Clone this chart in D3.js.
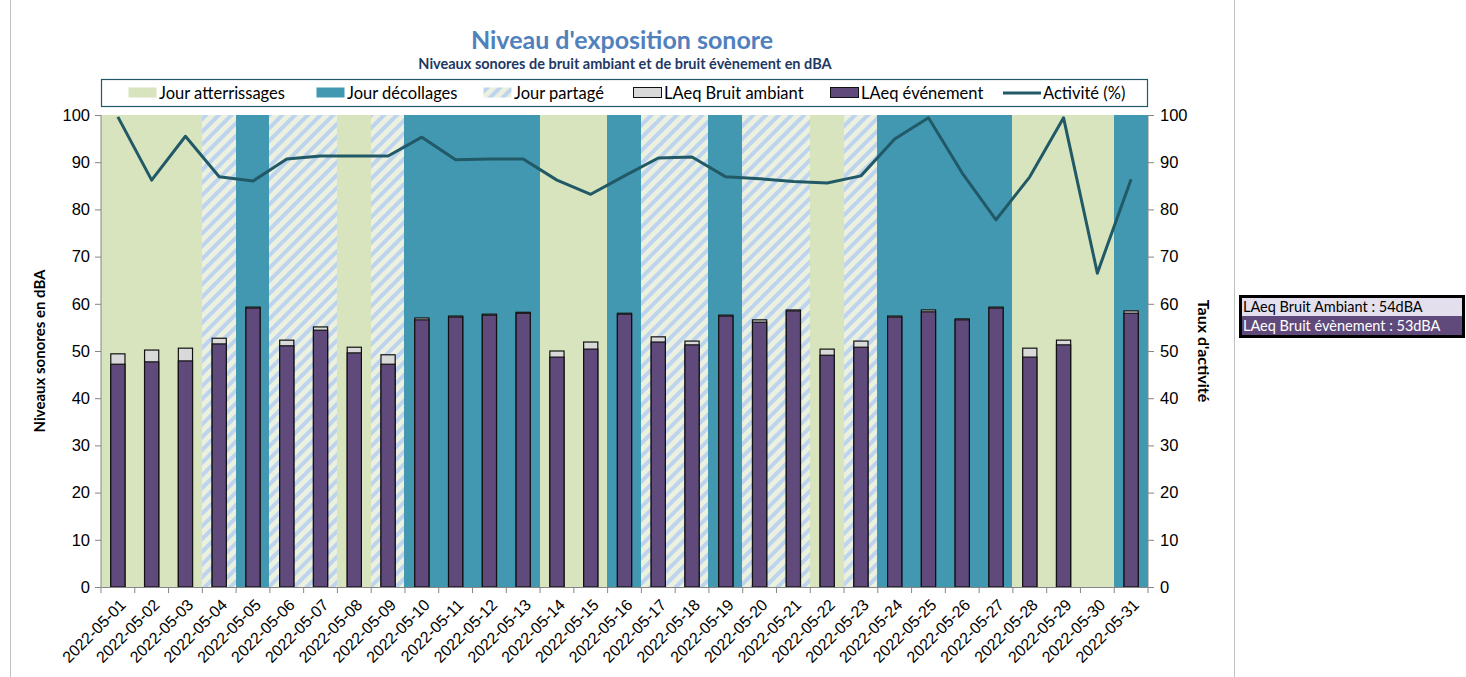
<!DOCTYPE html>
<html>
<head>
<meta charset="utf-8">
<script src="https://cdn.jsdelivr.net/npm/d3@7"></script>
<style>
  body { margin: 0; background: #fff; }
  svg { font-family: Lato, "Open Sans", sans-serif; }
</style>
</head>
<body>
<div id="chart"></div>
<script>
const dates = ["2022-05-01","2022-05-02","2022-05-03","2022-05-04","2022-05-05","2022-05-06","2022-05-07",
  "2022-05-08","2022-05-09","2022-05-10","2022-05-11","2022-05-12","2022-05-13","2022-05-14","2022-05-15",
  "2022-05-16","2022-05-17","2022-05-18","2022-05-19","2022-05-20","2022-05-21","2022-05-22","2022-05-23",
  "2022-05-24","2022-05-25","2022-05-26","2022-05-27","2022-05-28","2022-05-29","2022-05-30","2022-05-31"];

// A = atterrissages, D = décollages, P = partagé
const dayType = ["A","A","A","P","D","P","P","A","P","D","D","D","D","A","A","D","P","P","D","P","P","A","P","D","D","D","D","A","A","A","D"];

const ambient = [49.4,50.2,50.6,52.7,59.3,52.3,55.1,50.8,49.2,57.0,57.4,57.8,58.2,50.0,51.9,58.0,53.0,52.1,57.6,56.6,58.7,50.4,52.1,57.4,58.7,56.8,59.3,50.6,52.3,null,58.5];
const event = [47.2,47.7,47.9,51.5,59.1,51.1,54.4,49.6,47.2,56.6,57.2,57.6,58.0,48.7,50.4,57.8,51.9,51.3,57.4,56.1,58.5,49.1,50.8,57.2,58.3,56.6,59.1,48.7,51.3,null,58.0];
const activity = [99.6,86.2,95.5,86.9,86.0,90.7,91.3,91.3,91.3,95.3,90.5,90.7,90.7,86.2,83.2,87.1,90.9,91.1,86.9,86.5,85.9,85.6,87.1,94.9,99.4,87.7,77.8,86.9,99.4,66.5,86.4];

const yTicks = [0,10,20,30,40,50,60,70,80,90,100];
const legendItems = ["Jour atterrissages","Jour décollages","Jour partagé","LAeq Bruit ambiant","LAeq événement","Activité (%)"];
const summary = ["LAeq Bruit Ambiant : 54dBA", "LAeq Bruit évènement : 53dBA"];

const width = 1466, height = 677;
const margin = { top: 115, right: 318, bottom: 90, left: 101 };

const svg = d3.select("#chart").append("svg")
  .attr("width", width)
  .attr("height", height);

const defs = svg.append("defs");
const pat = defs.append("pattern")
  .attr("id", "hatch")
  .attr("patternUnits", "userSpaceOnUse")
  .attr("width", 9)
  .attr("height", 9)
  .attr("patternTransform", "rotate(45)");
pat.append("rect").attr("width", 9).attr("height", 9).attr("fill", "#EBF1DE");
pat.append("rect").attr("x", 0).attr("width", 4).attr("height", 9).attr("fill", "#BDD3EE");

const bgFill = { A: "#D7E4BD", D: "#4298B1", P: "url(#hatch)" };

// chart frame
svg.append("rect")
  .attr("x", 10.5).attr("y", -5)
  .attr("width", 1224).attr("height", 700)
  .attr("fill", "none")
  .attr("stroke", "#BFBFBF");

const x = d3.scaleBand()
  .domain(dates)
  .range([margin.left, width - margin.right]);

const y = d3.scaleLinear()
  .domain([0, 100])
  .range([height - margin.bottom, margin.top]);

const y2 = d3.scaleLinear()
  .domain([0, 100])
  .range([height - margin.bottom, margin.top]);

// day type backgrounds
svg.append("g")
  .attr("shape-rendering", "crispEdges")
  .selectAll("rect")
  .data(dates)
  .join("rect")
  .attr("x", d => Math.floor(x(d)))
  .attr("width", d => Math.ceil(x(d) + x.bandwidth()) - Math.floor(x(d)))
  .attr("y", y2(100))
  .attr("height", y2(0) - y2(100))
  .attr("fill", (d, i) => bgFill[dayType[i]]);

const barW = x.bandwidth() * 0.42;
const bx = d => x(d) + (x.bandwidth() - barW) / 2;

svg.append("g").selectAll("rect")
  .data(dates.filter((d, i) => ambient[i] != null))
  .join("rect")
  .attr("x", bx)
  .attr("width", barW)
  .attr("y", d => y(ambient[dates.indexOf(d)]))
  .attr("height", d => y(0) - y(ambient[dates.indexOf(d)]))
  .attr("fill", "#D9D9D9")
  .attr("stroke", "#111")
  .attr("stroke-width", 1.2);

svg.append("g").selectAll("rect")
  .data(dates.filter((d, i) => event[i] != null))
  .join("rect")
  .attr("x", bx)
  .attr("width", barW)
  .attr("y", d => y(event[dates.indexOf(d)]))
  .attr("height", d => y(0) - y(event[dates.indexOf(d)]))
  .attr("fill", "#604A7B")
  .attr("stroke", "#111")
  .attr("stroke-width", 1.2);

const line = d3.line()
  .x((d, i) => x(dates[i]) + x.bandwidth() / 2)
  .y(d => y2(d));

svg.append("path")
  .datum(activity)
  .attr("fill", "none")
  .attr("stroke", "#215967")
  .attr("stroke-width", 3)
  .attr("stroke-linejoin", "round")
  .attr("d", line);

// axes
const axisColor = "#868686";

const gLeft = svg.append("g")
  .attr("transform", `translate(${margin.left},0)`)
  .call(d3.axisLeft(y).tickValues(yTicks).tickSize(6).tickPadding(5));

const gRight = svg.append("g")
  .attr("transform", `translate(${width - margin.right},0)`)
  .call(d3.axisRight(y2).tickValues(yTicks).tickSize(6).tickPadding(6));

const gBottom = svg.append("g")
  .attr("transform", `translate(0,${height - margin.bottom})`)
  .call(d3.axisBottom(x).tickSize(0));

// category boundary ticks
svg.append("g").selectAll("line")
  .data(dates.concat(["end"]))
  .join("line")
  .attr("x1", (d, i) => margin.left + i * x.step())
  .attr("x2", (d, i) => margin.left + i * x.step())
  .attr("y1", y(0))
  .attr("y2", y(0) + 6)
  .attr("stroke", axisColor);

[gLeft, gRight, gBottom].forEach(g => {
  g.select(".domain").attr("stroke", axisColor);
  g.selectAll(".tick line").attr("stroke", axisColor);
  g.selectAll("text").style("font-size", "16.5px").attr("fill", "#000");
});
gLeft.select(".domain").attr("d", `M0,${y(100)}V${y(0)}`);
gRight.select(".domain").attr("d", `M0,${y(100)}V${y(0)}`);

gBottom.selectAll("text")
  .style("font-size", "16px")
  .attr("text-anchor", "end")
  .attr("dy", "0.35em")
  .attr("transform", "translate(5,15) rotate(-45)")
  .attr("y", 0)
  .attr("x", 0);

// axis titles
svg.append("text")
  .attr("transform", `translate(45,${(y(0) + y(100)) / 2}) rotate(-90)`)
  .attr("text-anchor", "middle")
  .style("font-size", "15px")
  .style("font-weight", "bold")
  .text("Niveaux sonores en dBA");

svg.append("text")
  .attr("transform", `translate(1198,${(y(0) + y(100)) / 2}) rotate(90)`)
  .attr("text-anchor", "middle")
  .style("font-size", "16px")
  .style("font-weight", "bold")
  .text("Taux d'activité");

// titles
svg.append("text")
  .attr("x", 622).attr("y", 49)
  .attr("text-anchor", "middle")
  .style("font-size", "25px")
  .style("font-weight", "bold")
  .attr("fill", "#4F81BD")
  .text("Niveau d'exposition sonore");

svg.append("text")
  .attr("x", 625).attr("y", 69)
  .attr("text-anchor", "middle")
  .style("font-size", "14.5px")
  .style("font-weight", "bold")
  .attr("fill", "#1F3864")
  .text("Niveaux sonores de bruit ambiant et de bruit évènement en dBA");

// legend
svg.append("rect")
  .attr("x", 101.5).attr("y", 79.5)
  .attr("width", 1046).attr("height", 27)
  .attr("fill", "#fff")
  .attr("stroke", "#215967")
  .attr("stroke-width", 1.2);

const legendX = [128, 316, 483, 633, 830, 1003];
const legendSwatch = [
  { fill: "#D7E4BD", stroke: "none" },
  { fill: "#4298B1", stroke: "none" },
  { fill: "url(#hatch)", stroke: "none" },
  { fill: "#D9D9D9", stroke: "#111" },
  { fill: "#604A7B", stroke: "#111" }
];
const legend = svg.append("g");
legendItems.forEach((name, i) => {
  const g = legend.append("g").attr("transform", `translate(${legendX[i]},0)`);
  if (i < 5) {
    g.append("rect")
      .attr("x", 0.5).attr("y", 87.5)
      .attr("width", 28).attr("height", 10)
      .attr("fill", legendSwatch[i].fill)
      .attr("stroke", legendSwatch[i].stroke);
  } else {
    g.append("line")
      .attr("x1", 0).attr("x2", 38)
      .attr("y1", 93).attr("y2", 93)
      .attr("stroke", "#215967")
      .attr("stroke-width", 3);
  }
  g.append("text")
    .attr("x", i < 5 ? 31 : 40)
    .attr("y", 98.5)
    .style("font-size", "16.5px")
    .text(name);
});

// summary box
const box = svg.append("g").attr("transform", "translate(1239,295)");
box.append("rect").attr("x", 0).attr("y", 0).attr("width", 226).attr("height", 43)
  .attr("fill", "#000");
box.append("rect").attr("x", 3).attr("y", 3).attr("width", 220).attr("height", 18)
  .attr("fill", "#E4DFEC");
box.append("rect").attr("x", 3).attr("y", 21).attr("width", 220).attr("height", 19)
  .attr("fill", "#604A7B");
box.append("text").attr("x", 4).attr("y", 17).style("font-size", "14.5px")
  .attr("fill", "#000").text(summary[0]);
box.append("text").attr("x", 4).attr("y", 36).style("font-size", "14.5px")
  .attr("fill", "#fff").text(summary[1]);
</script>
</body>
</html>
